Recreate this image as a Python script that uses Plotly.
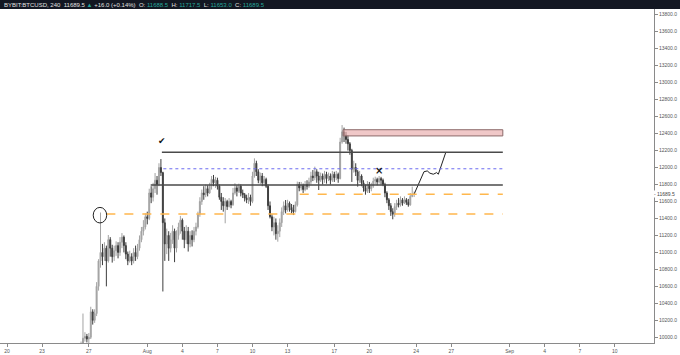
import pandas as pd
import plotly.graph_objects as go

# ---------------- data (4H candles, BYBIT:BTCUSD) ----------------
start_time = "2020-07-26 00:00"
closes = [9680, 9750, 9880, 9990, 10010, 9980,
          10000, 10300, 10200, 10280, 10600, 10900,
          11000, 10950, 11050, 10900, 11150, 11050,
          10950, 11020, 11080, 11000, 11120, 11180,
          11080, 10980, 10900, 10950, 10900, 11000,
          10950, 11050, 11150, 11250, 11300, 11420,
          11400, 11700, 11650, 11750, 11850, 11800,
          12000, 11940, 11350, 11100, 11200, 11050,
          11150, 11250, 11050, 11200, 11300, 11380,
          11250, 11150, 11250, 11100, 11200, 11150,
          11250, 11300, 11450, 11600, 11700, 11680,
          11750, 11700, 11780, 11860, 11820, 11850,
          11780, 11650, 11600, 11550, 11600, 11540,
          11600, 11560, 11700, 11760, 11720, 11780,
          11700, 11680, 11640, 11620, 11650, 11600,
          11900, 12050, 11950, 11850, 11900, 11820,
          11860, 11780, 11550, 11420, 11300, 11350,
          11220, 11250, 11350, 11480, 11550, 11500,
          11580, 11530, 11500, 11480, 11560, 11800,
          11760, 11790, 11740, 11800, 11780, 11830,
          11900, 11880, 11950, 11900, 11850, 11900,
          11860, 11920, 11870, 11900, 11850, 11920,
          11880, 11920, 11870, 12300, 12420, 12380,
          12330, 12280, 12200, 11980, 12000, 11950,
          11850, 11900, 11820, 11760, 11720, 11800,
          11750, 11780, 11840, 11860, 11830, 11870,
          11850, 11800, 11700, 11620, 11550, 11480,
          11450, 11540, 11580, 11560, 11620, 11580,
          11620, 11590, 11560, 11660, 11673.5, 11689.5]
highs = [9700, 9800, 9950, 10280, 10060, 10040,
         10050, 10360, 10330, 10330, 10650, 10920,
         11470, 11100, 11120, 11080, 11205, 11180,
         11090, 11080, 11130, 11120, 11180, 11228,
         11200, 11120, 11010, 11020, 10990, 11050,
         11080, 11100, 11200, 11300, 11380, 11460,
         11480, 11750, 11780, 11820, 11935, 11900,
         12050, 12100, 11950, 11400, 11280, 11250,
         11230, 11320, 11280, 11260, 11350, 11430,
         11400, 11300, 11320, 11300, 11250, 11260,
         11300, 11350, 11480, 11650, 11740, 11780,
         11800, 11790, 11820, 11900, 11912, 11890,
         11880, 11800, 11700, 11650, 11640, 11620,
         11640, 11620, 11760, 11815, 11790, 11810,
         11800, 11740, 11700, 11680, 11700, 11680,
         11950, 12108, 12080, 11980, 11940, 11935,
         11900, 11880, 11800, 11600, 11450, 11420,
         11400, 11320, 11400, 11530, 11600, 11617,
         11620, 11600, 11570, 11560, 11600, 11834,
         11830, 11830, 11810, 11840, 11850, 11880,
         11950, 11970, 12010, 11980, 11950, 11940,
         11930, 11960, 11950, 11940, 11930, 11960,
         11950, 11960, 11940, 12350, 12500, 12470,
         12420, 12380, 12300, 12220, 12080, 12050,
         11970, 11960, 11920, 11850, 11800, 11840,
         11830, 11820, 11880, 11892, 11880, 11900,
         11890, 11870, 11820, 11720, 11640, 11580,
         11520, 11580, 11620, 11640, 11660, 11640,
         11660, 11640, 11630, 11700, 11775, 11717.5]
lows = [9600, 9650, 9720, 9850, 9950, 9940,
        9920, 9980, 10150, 10170, 10250, 10550,
        10820, 10850, 10900, 10600, 10880, 10950,
        10880, 10900, 10960, 10930, 10960, 11050,
        11000, 10920, 10850, 10880, 10850, 10870,
        10900, 10920, 11020, 11120, 11200, 11270,
        11330, 11380, 11580, 11600, 11700, 11680,
        11780, 11900, 10540, 10900, 10980, 10900,
        11000, 11100, 10885, 11000, 11150, 11220,
        11150, 11050, 11100, 11010, 11060, 11070,
        11120, 11200, 11280, 11420, 11560, 11620,
        11650, 11660, 11690, 11740, 11780, 11760,
        11740, 11620, 11500, 11480, 11343, 11500,
        11530, 11520, 11550, 11680, 11660, 11700,
        11660, 11640, 11600, 11580, 11570, 11550,
        11580, 11880, 11900, 11815, 11800, 11780,
        11780, 11760, 11500, 11400, 11250, 11200,
        11150, 11126, 11180, 11300, 11440, 11460,
        11480, 11480, 11460, 11440, 11470, 11540,
        11720, 11730, 11700, 11720, 11740, 11760,
        11800, 11840, 11850, 11820, 11735, 11830,
        11800, 11820, 11810, 11840, 11800, 11830,
        11830, 11850, 11820, 11860, 12280, 12300,
        12280, 12200, 12150, 11830, 11940, 11900,
        11775, 11820, 11780, 11715, 11680, 11700,
        11700, 11720, 11760, 11800, 11790, 11810,
        11800, 11780, 11650, 11580, 11500, 11430,
        11390, 11420, 11500, 11530, 11540, 11550,
        11570, 11560, 11538, 11550, 11650, 11653]
first_open = 9620
last_open = 11688.5

# drawn levels / annotations
level_top = 12180
level_blue = 11985
level_mid = 11795
level_orange_hi = 11685
level_orange_lo = 11452
zone_lo, zone_hi = 12372, 12445

path_times = ["2020-08-23 20:10", "2020-08-24 16:05", "2020-08-24 22:50",
              "2020-08-25 04:20", "2020-08-25 11:15", "2020-08-25 18:15",
              "2020-08-25 21:35", "2020-08-26 13:10"]
path_prices = [11690, 11950, 11960, 11933, 11921, 11940, 11921, 12183]

x_tick_dates = ["2020-07-20", "2020-07-23", "2020-07-27", "2020-08-01", "2020-08-04",
                "2020-08-07", "2020-08-10", "2020-08-13", "2020-08-17", "2020-08-20",
                "2020-08-24", "2020-08-27", "2020-09-01", "2020-09-04", "2020-09-07",
                "2020-09-10"]
x_tick_text = ["20", "23", "27", "Aug", "4", "7", "10", "13", "17", "20",
               "24", "27", "Sep", "4", "7", "10"]
y_ticks = list(range(10000, 13801, 200))

# ---------------- build ----------------
times = pd.date_range(start_time, periods=len(closes), freq="4h")
opens = [first_open] + closes[:-1]
opens[-1] = last_open

UP = "#a3a3a3"
DOWN = "#3d3d3d"
FONT = "Liberation Sans"

fig = go.Figure()
fig.add_trace(go.Candlestick(
    x=times, open=opens, high=highs, low=lows, close=closes,
    increasing=dict(line=dict(color=UP, width=1), fillcolor=UP),
    decreasing=dict(line=dict(color=DOWN, width=1), fillcolor=DOWN),
    whiskerwidth=0, hoverinfo="skip", showlegend=False))

fig.add_trace(go.Scatter(x=path_times, y=path_prices, mode="lines",
                         line=dict(color="#222222", width=1),
                         hoverinfo="skip", showlegend=False))

end_x = "2020-08-31 10:00"
shapes = [
    dict(type="rect", xref="x", yref="y", x0="2020-08-17 18:00", x1=end_x,
         y0=zone_lo, y1=zone_hi, fillcolor="rgba(232,170,170,0.65)",
         line=dict(color="#8c6a6a", width=1)),
    dict(type="line", xref="x", yref="y", x0="2020-08-02 06:00", x1=end_x,
         y0=level_top, y1=level_top, line=dict(color="#4a4a4a", width=1.5)),
    dict(type="line", xref="x", yref="y", x0="2020-08-02 09:00", x1=end_x,
         y0=level_blue, y1=level_blue, line=dict(color="#6b6bf0", width=1, dash="dot")),
    dict(type="line", xref="x", yref="y", x0="2020-08-01 07:00", x1=end_x,
         y0=level_mid, y1=level_mid, line=dict(color="#4a4a4a", width=1.5)),
    dict(type="line", xref="x", yref="y", x0="2020-08-14 01:00", x1=end_x,
         y0=level_orange_hi, y1=level_orange_hi,
         line=dict(color="#ffb74d", width=1.5, dash="dash")),
    dict(type="line", xref="x", yref="y", x0="2020-07-28 12:00", x1=end_x,
         y0=level_orange_lo, y1=level_orange_lo,
         line=dict(color="#ffb74d", width=1.5, dash="dash")),
    dict(type="circle", xref="x", yref="y", x0="2020-07-27 09:00", x1="2020-07-28 12:40",
         y0=11347, y1=11530, line=dict(color="#222222", width=1)),
    # header bar
    dict(type="rect", xref="paper", yref="paper", x0=-0.01, x1=1.05,
         y0=1 - 9 / 343, y1=1.0, fillcolor="#131722", line=dict(width=0), layer="above"),
]

annotations = [
    dict(xref="x", yref="y", x="2020-08-02 06:15", y=12312, text="✔", showarrow=False,
         font=dict(size=9, color="#111111", family="DejaVu Sans")),
    dict(xref="x", yref="y", x="2020-08-20 19:40", y=11959, text="<b>×</b>", showarrow=False,
         font=dict(size=10, color="#111111", family="DejaVu Sans")),
    dict(xref="paper", yref="paper", x=0.003, y=1 - 4.5 / 343, xanchor="left", yanchor="middle",
         showarrow=False, align="left",
         text=("BYBIT:BTCUSD, 240 &nbsp;11689.5 <span style='color:#26a69a'>▲</span> +16.0 (+0.14%) "
               "&nbsp;O: <span style='color:#26a69a'>11688.5</span> "
               "&nbsp;H: <span style='color:#26a69a'>11717.5</span> "
               "&nbsp;L: <span style='color:#26a69a'>11653.0</span> "
               "&nbsp;C: <span style='color:#26a69a'>11689.5</span>"),
         font=dict(size=6, color="#e0e0e0", family=FONT)),
    dict(xref="paper", yref="y", x=1.0, y=11689.5, xanchor="left", yanchor="middle",
         xshift=-1, showarrow=False, text="- 11689.5", bgcolor="#ffffff", borderpad=0,
         font=dict(size=5, color="#444444", family=FONT)),
]

fig.update_layout(
    width=680, height=355,
    margin=dict(l=0, r=26, t=0, b=12, autoexpand=False),
    paper_bgcolor="#ffffff", plot_bgcolor="#ffffff",
    font=dict(family=FONT, size=5, color="#555555"),
    showlegend=False, hovermode=False,
    shapes=shapes, annotations=annotations,
    xaxis=dict(type="date", range=["2020-07-19 09:37", "2020-09-13 08:24"],
               rangeslider=dict(visible=False), automargin=False,
               tickvals=x_tick_dates, ticktext=x_tick_text,
               showgrid=False, zeroline=False, showline=True, linecolor="#8a8a8a",
               linewidth=1, ticks="outside", ticklen=3, tickcolor="#8a8a8a",
               tickfont=dict(size=5, color="#555555")),
    yaxis=dict(side="right", range=[9933, 13973], tickvals=y_ticks, tickformat=".1f",
               automargin=False,
               showgrid=False, zeroline=False, showline=True, linecolor="#8a8a8a",
               linewidth=1, ticks="outside", ticklen=3, tickcolor="#8a8a8a",
               tickfont=dict(size=5, color="#555555")),
)

fig.write_html("out.html", config={"displayModeBar": False},
               post_script="document.body.style.margin='0';document.body.style.padding='0';")
